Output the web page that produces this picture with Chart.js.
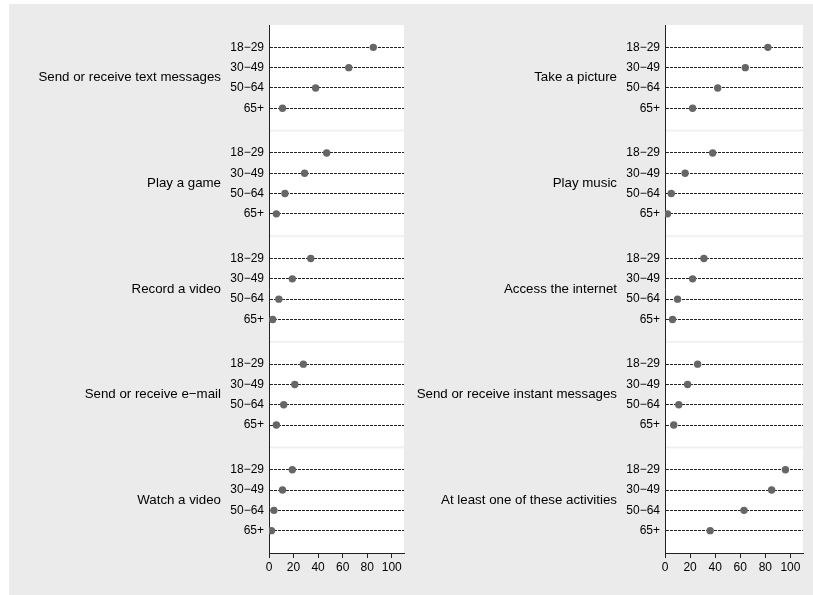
<!DOCTYPE html>
<html>
<head>
<meta charset="utf-8">
<script src="https://cdn.jsdelivr.net/npm/chart.js@4"></script>
<style>
body { margin: 0; background: #fff; }
#bg { position: absolute; left: 9px; top: 4px; width: 804px; height: 591px; background: #ebebeb; }
canvas { position: absolute; top: 0; }
#leftChart { left: 0; }
#rightChart { left: 408px; }
</style>
</head>
<body>
<div id="bg"></div>
<canvas id="leftChart" width="408" height="595"></canvas>
<canvas id="rightChart" width="405" height="595"></canvas>
<script>
var ageGroups = ['18\u221229', '30\u221249', '50\u221264', '65+'];

var leftActivities = ['Send or receive text messages', 'Play a game', 'Record a video', 'Send or receive e\u2212mail', 'Watch a video'];
var rightActivities = ['Take a picture', 'Play music', 'Access the internet', 'Send or receive instant messages', 'At least one of these activities'];

// percent by age group: 18-29, 30-49, 50-64, 65+
var textMessages = [85, 65, 38, 11];
var playGame = [47, 29, 13, 6];
var recordVideo = [34, 19, 8, 3];
var sendEmail = [28, 21, 12, 6];
var watchVideo = [19, 11, 4, 2];

var takePicture = [82, 64, 42, 22];
var playMusic = [38, 16, 5, 2];
var accessInternet = [31, 22, 10, 6];
var instantMessages = [26, 18, 11, 7];
var atLeastOne = [96, 85, 63, 36];

var xTicks = [0, 20, 40, 60, 80, 100];
var xMax = 110;

var panelSize = 5.2;   // y units per panel
var rowOffset = 1.1;   // first row inside a panel
var fontFamily = '"Liberation Sans", Arial, Helvetica, sans-serif';

function rowPos(g, i) {
    return g * panelSize + rowOffset + i;
}

var panelPlugin = {
    id: 'panels',
    beforeDraw(chart, args, opts) {
        const ctx = chart.ctx;
        const area = chart.chartArea;
        const y = chart.scales.y;
        ctx.save();
        ctx.fillStyle = '#ffffff';
        ctx.fillRect(area.left, area.top, area.right - area.left, area.bottom - area.top);
        ctx.fillStyle = '#f0f0f0';
        for (let g = 1; g < opts.groups.length; g++) {
            const py = y.getPixelForValue(g * panelSize);
            ctx.fillRect(area.left, py - 1, area.right - area.left, 2);
        }
        ctx.restore();
    },
    afterDraw(chart, args, opts) {
        const ctx = chart.ctx;
        const area = chart.chartArea;
        const y = chart.scales.y;
        ctx.save();
        ctx.font = '13.3px ' + fontFamily;
        ctx.fillStyle = '#000';
        ctx.textAlign = 'right';
        ctx.textBaseline = 'middle';
        opts.groups.forEach((name, g) => {
            ctx.fillText(name, area.left - 48, y.getPixelForValue(g * panelSize + panelSize / 2));
        });
        ctx.restore();
    }
};

function drawChart(canvasId, groups, values, axisLeft, padRight) {
    const ctx = document.getElementById(canvasId).getContext('2d');
    const points = [];
    const rows = [];
    groups.forEach((name, g) => {
        values[g].forEach((v, i) => {
            points.push({ x: v, y: rowPos(g, i) });
            rows.push({ value: rowPos(g, i) });
        });
    });

    new Chart(ctx, {
        type: 'scatter',
        data: {
            datasets: [{
                data: points,
                pointRadius: 3.7,
                pointBackgroundColor: '#666666',
                pointBorderWidth: 0
            }]
        },
        options: {
            responsive: false,
            animation: false,
            layout: { padding: { top: 25, right: padRight, left: 0, bottom: 0 } },
            plugins: {
                legend: { display: false },
                tooltip: { enabled: false },
                panels: { groups: groups }
            },
            scales: {
                x: {
                    type: 'linear',
                    min: 0,
                    max: xMax,
                    afterBuildTicks: s => { s.ticks = xTicks.map(v => ({ value: v })); },
                    afterFit: s => { s.height = 42; },
                    grid: { drawOnChartArea: false, drawTicks: true, tickLength: 5, color: '#222' },
                    border: { color: '#222', width: 1 },
                    ticks: { color: '#000', font: { size: 12, family: fontFamily }, padding: 2, maxRotation: 0 }
                },
                y: {
                    type: 'linear',
                    reverse: true,
                    min: 0,
                    max: groups.length * panelSize,
                    afterBuildTicks: s => { s.ticks = rows.slice(); },
                    afterFit: s => { s.width = axisLeft; },
                    grid: { drawTicks: false, color: '#222', lineWidth: 1 },
                    border: { color: '#222', width: 1, dash: [3, 1] },
                    ticks: {
                        callback: (v, i) => ageGroups[i % ageGroups.length],
                        color: '#000',
                        font: { size: 12, family: fontFamily },
                        padding: 5
                    }
                }
            }
        },
        plugins: [panelPlugin]
    });
}

drawChart('leftChart', leftActivities,
    [textMessages, playGame, recordVideo, sendEmail, watchVideo], 269, 1);
drawChart('rightChart', rightActivities,
    [takePicture, playMusic, accessInternet, instantMessages, atLeastOne], 257, 10);
</script>
</body>
</html>
